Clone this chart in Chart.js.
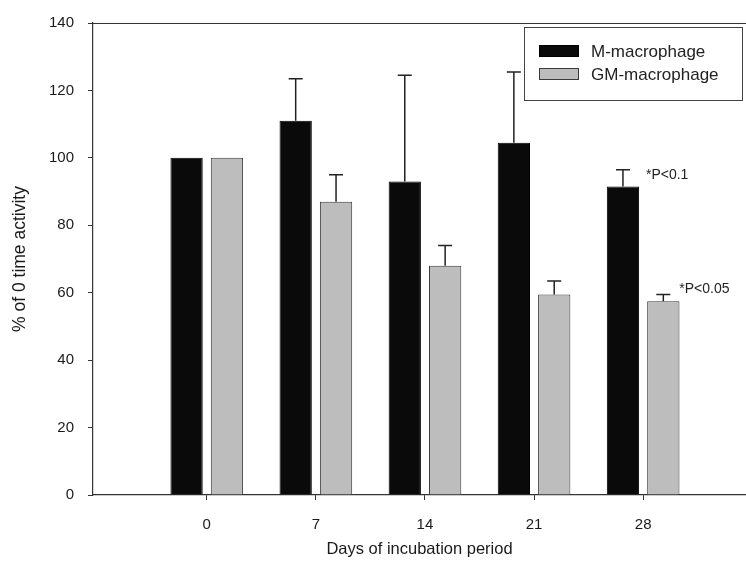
<!DOCTYPE html>
<html>
<head>
<meta charset="utf-8">
<script src="https://cdn.jsdelivr.net/npm/chart.js@4.4.0/dist/chart.umd.min.js"></script>
<style>
  html, body { margin: 0; padding: 0; background: #fff; }
</style>
</head>
<body>
<canvas id="chart" width="746" height="572"></canvas>
<script>
const days = [0, 7, 14, 21, 28];
const mMacro = [100, 111, 93, 104.5, 91.5];
const mMacroErr = [0, 12.5, 31.5, 21, 5];
const gmMacro = [100, 87, 68, 59.5, 57.5];
const gmMacroErr = [0, 8, 6, 4, 2];
const yTicks = [0, 20, 40, 60, 80, 100, 120, 140];
const noteTexts = ["*P<0.1", "*P<0.05"];
const noteDay = 28;

const FONT = "'Liberation Sans', Arial, sans-serif";
const errors = [mMacroErr, gmMacroErr];

function toPoints(values) {
  return days.map((d, i) => ({ x: d, y: values[i] }));
}

// error bars, notes, top frame line and the boxed legend
const extras = {
  id: "extras",
  afterDatasetsDraw(chart) {
    const ctx = chart.ctx;
    const yScale = chart.scales.y;
    const area = chart.chartArea;

    ctx.save();
    ctx.strokeStyle = "#222";
    ctx.lineWidth = 1.5;
    chart.data.datasets.forEach((ds, di) => {
      const meta = chart.getDatasetMeta(di);
      meta.data.forEach((bar, i) => {
        const err = errors[di][i];
        if (!err) return;
        const top = yScale.getPixelForValue(ds.data[i].y + err);
        ctx.beginPath();
        ctx.moveTo(bar.x, bar.y);
        ctx.lineTo(bar.x, top);
        ctx.moveTo(bar.x - 7, top);
        ctx.lineTo(bar.x + 7, top);
        ctx.stroke();
      });
    });

    // significance notes next to the day 28 bars
    const idx = days.indexOf(noteDay);
    ctx.fillStyle = "#222";
    ctx.textBaseline = "middle";
    ctx.textAlign = "left";
    ctx.font = "14px " + FONT;
    noteTexts.forEach((txt, di) => {
      const bar = chart.getDatasetMeta(di).data[idx];
      const top = yScale.getPixelForValue(chart.data.datasets[di].data[idx].y + errors[di][idx]);
      const x = di === 0 ? bar.x + 23 : bar.x + 16;
      const y = di === 0 ? top + 5 : top - 5;
      ctx.fillText(txt, x, y);
    });

    // top frame line
    ctx.strokeStyle = "#333";
    ctx.lineWidth = 1.2;
    ctx.beginPath();
    ctx.moveTo(area.left, area.top + 0.5);
    ctx.lineTo(area.right, area.top + 0.5);
    ctx.stroke();

    // legend
    const bx = area.right - 222, by = area.top + 4, bw = 218, bh = 73;
    ctx.fillStyle = "#fff";
    ctx.fillRect(bx, by, bw, bh);
    ctx.strokeStyle = "#444";
    ctx.lineWidth = 1;
    ctx.strokeRect(bx + 0.5, by + 0.5, bw, bh);
    ctx.font = "17px " + FONT;
    chart.data.datasets.forEach((ds, di) => {
      const cy = by + 24 + di * 23;
      ctx.fillStyle = ds.backgroundColor;
      ctx.fillRect(bx + 15, cy - 6, 40, 12);
      ctx.strokeStyle = ds.borderColor;
      ctx.strokeRect(bx + 15.5, cy - 5.5, 39, 11);
      ctx.fillStyle = "#222";
      ctx.fillText(ds.label, bx + 67, cy + 1);
    });
    ctx.restore();
  }
};

new Chart(document.getElementById("chart"), {
  type: "bar",
  data: {
    datasets: [
      {
        label: "M-macrophage",
        data: toPoints(mMacro),
        backgroundColor: "#0a0a0a",
        borderColor: "#000",
        borderWidth: 1,
        categoryPercentage: 0.74,
        barPercentage: 0.8
      },
      {
        label: "GM-macrophage",
        data: toPoints(gmMacro),
        backgroundColor: "#bdbdbd",
        borderColor: "#3a3a3a",
        borderWidth: 1,
        categoryPercentage: 0.74,
        barPercentage: 0.8
      }
    ]
  },
  options: {
    responsive: false,
    animation: false,
    devicePixelRatio: 1,
    layout: { padding: { top: 20, right: 0, left: 0, bottom: 0 } },
    plugins: { legend: { display: false }, tooltip: { enabled: false } },
    scales: {
      x: {
        type: "linear",
        min: -7.3,
        max: 34.6,
        offset: false,
        grid: { display: true, drawOnChartArea: false, tickLength: 5, color: "#333", offset: false },
        border: { display: true, color: "#333", width: 1.2 },
        ticks: { color: "#1a1a1a", font: { family: FONT, size: 15 }, padding: 16 },
        afterBuildTicks: axis => { axis.ticks = days.map(v => ({ value: v })); },
        afterFit: axis => { axis.height = 77; },
        title: {
          display: true,
          text: "Days of incubation period",
          color: "#1a1a1a",
          font: { family: FONT, size: 16.5 },
          padding: { top: 0, bottom: 13 }
        }
      },
      y: {
        min: 0,
        max: 140,
        grid: { display: true, drawOnChartArea: false, tickLength: 5, color: "#333" },
        border: { display: true, color: "#333", width: 1.2 },
        ticks: { color: "#1a1a1a", font: { family: FONT, size: 15 }, padding: 14 },
        afterBuildTicks: axis => { axis.ticks = yTicks.map(v => ({ value: v })); },
        afterFit: axis => { axis.width = 93; },
        title: {
          display: true,
          text: "% of 0 time activity",
          color: "#1a1a1a",
          font: { family: FONT, size: 17.5 },
          padding: { top: 10, bottom: 0 }
        }
      }
    }
  },
  plugins: [extras]
});
</script>
</body>
</html>
